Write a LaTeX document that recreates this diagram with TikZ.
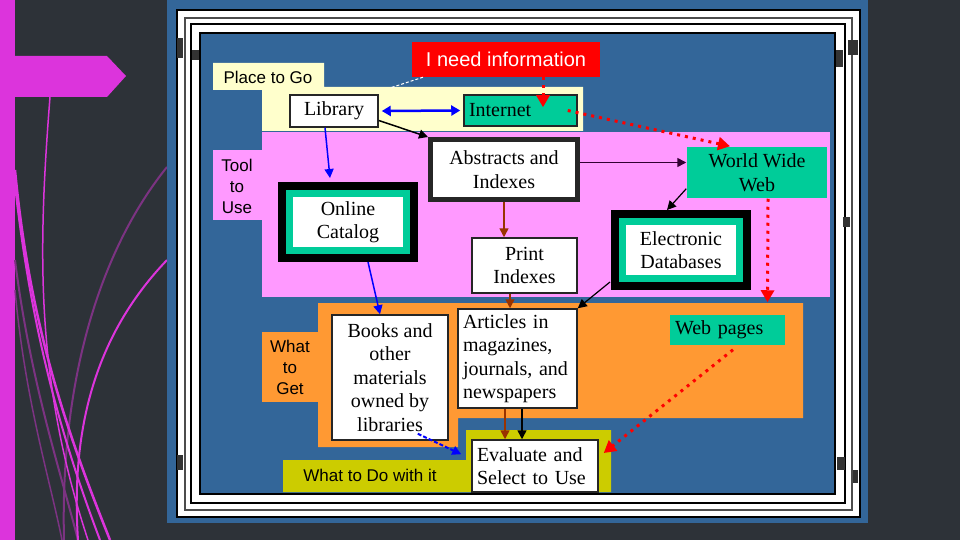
\documentclass[tikz,border=0pt]{standalone}
\usepackage{fontspec}
\setmainfont{Liberation Serif}
\newfontfamily\labelfont{Liberation Sans}
\usetikzlibrary{arrows.meta}

\definecolor{slide}{RGB}{45,50,56}
\definecolor{accent}{RGB}{220,52,220}
\definecolor{frameblue}{RGB}{51,102,153}
\definecolor{placeyellow}{RGB}{255,255,204}
\definecolor{toolpink}{RGB}{255,153,255}
\definecolor{getorange}{RGB}{255,153,51}
\definecolor{doolive}{RGB}{204,204,0}
\definecolor{netgreen}{RGB}{0,204,153}
\definecolor{needred}{RGB}{255,0,0}
\definecolor{linkblue}{RGB}{0,0,255}
\definecolor{linkbrown}{RGB}{153,51,0}
\definecolor{linkpurple}{RGB}{51,0,51}

\tikzset{
  box/.style={draw=black!85, line width=1.5pt, fill=white, inner sep=0pt, align=center,
    font=\fontsize{20}{23.5}\selectfont},
  heavybox/.style={box, line width=5pt},
  ringbox/.style={box, draw=netgreen, line width=7pt, preaction={draw=black, line width=23pt}},
  greenbox/.style={box, fill=netgreen, draw=none},
  regionlabel/.style={inner sep=0pt, align=center, font=\labelfont\fontsize{17}{21}\selectfont},
  link/.style={line width=1.5pt, -{Triangle[length=9pt,width=9pt]}},
  hint/.style={draw=needred, line width=3pt, dash pattern=on 3pt off 5pt,
    -{Triangle[length=12pt,width=13pt]}},
}

\begin{document}
\begin{tikzpicture}[x=1pt, y=-1pt]
\useasboundingbox (0,0) rectangle (960,540);
\fill[slide] (0,0) rectangle (960,540);

% left ribbon
\fill[accent] (0,0) rectangle (15,540);
\fill[accent] (15,56) -- (107,56) -- (126,76) -- (107,97) -- (15,97) -- cycle;
\draw[accent!45!slide, line width=2pt] (167,167) .. controls (100,250) and (60,380) .. (64,540);
\draw[accent!45!slide, line width=2pt] (15,260) .. controls (30,380) and (60,470) .. (78,540);
\draw[accent!45!slide, line width=1.5pt] (15,290) .. controls (25,400) and (50,480) .. (62,540);
\draw[accent, line width=1.5pt] (50,97) .. controls (38,250) and (35,380) .. (88,540);
\draw[accent, line width=2.5pt] (15,170) .. controls (30,330) and (70,440) .. (110,540);
\draw[accent, line width=2pt] (15,185) .. controls (32,340) and (66,450) .. (100,540);
\draw[accent, line width=2pt] (167,260) .. controls (100,330) and (70,420) .. (78,540);

% frame
\fill[frameblue] (167,0) rectangle (868,523);
\filldraw[fill=white, draw=black, line width=1.2pt] (177,10) rectangle (860,517);
\draw[black!70, line width=2.5pt] (185,18) rectangle (852,510);
\draw[black, line width=1.2pt] (191,24) rectangle (845,503);
\filldraw[fill=frameblue, draw=black, line width=1.5pt] (200,33) rectangle (835,494);
\fill[black!80] (177,38) rectangle (183,58);
\fill[black!80] (192,50) rectangle (199,60);
\fill[black!80] (177,455) rectangle (183,470);
\fill[black!80] (848,40) rectangle (858,55);
\fill[black!80] (836,50) rectangle (843,67);
\fill[black!80] (843,217) rectangle (850,227);
\fill[black!80] (837,457) rectangle (845,470);
\fill[black!80] (853,470) rectangle (858,483);

% bands
\fill[placeyellow] (213,63) -- (324,63) -- (324,87) -- (583,87) -- (583,131)
  -- (262,131) -- (262,90) -- (213,90) -- cycle;
\fill[toolpink] (262,132) rectangle (830,297);
\fill[toolpink] (213,150) rectangle (262,220);
\fill[getorange] (318,303) -- (803,303) -- (803,418) -- (458,418) -- (458,447)
  -- (318,447) -- cycle;
\fill[getorange] (262,332) rectangle (318,402);
\fill[doolive] (283,460) -- (466,460) -- (466,430) -- (611,430) -- (611,492)
  -- (283,492) -- cycle;

\node[regionlabel] (placelbl) at (268,77) {Place to Go};
\node[regionlabel] (toollbl) at (237,186) {Tool\\to\\Use};
\node[regionlabel] (getlbl) at (290,367) {What\\to\\Get};
\node[regionlabel] (dolbl) at (370,475) {What to Do with it};

\node[fill=needred, text=white, inner sep=0pt, minimum width=188pt, minimum height=35pt,
  font=\labelfont\fontsize{20}{24}\selectfont] (need) at (506,59.5) {I need information};
\node[box, minimum width=88pt, minimum height=32pt] (lib) at (334,111) {Library};
\node[box, fill=netgreen, text width=103pt, align=left, inner xsep=5pt, minimum height=31pt]
  (net) at (520.5,110.5) {Internet};
\node[heavybox, minimum width=147pt, minimum height=60pt] (abs) at (504,169.5) {Abstracts and\\Indexes};
\node[greenbox, minimum width=140pt, minimum height=51pt] (www) at (757,172.5) {World Wide\\Web};
\node[ringbox, minimum width=117pt, minimum height=57pt] (cat) at (348,222) {Online\\Catalog};
\node[box, minimum width=105pt, minimum height=55pt] (prt) at (524.5,265.5) {Print\\Indexes};
\node[ringbox, minimum width=117pt, minimum height=57pt] (edb) at (681,250) {Electronic\\Databases};
\node[box, minimum width=116pt, minimum height=125pt] (bks) at (390,377.5)
  {Books and\\other\\materials\\owned by\\libraries};
\node[box, text width=109pt, align=left, inner xsep=5pt, minimum height=99pt] (art) at (517.5,358.5)
  {Articles in\\magazines,\\journals, and\\newspapers};
\node[greenbox, text width=105pt, align=left, inner xsep=5pt, minimum height=30pt] (web) at (727.5,330)
  {Web pages};
\node[box, text width=116pt, align=left, inner xsep=5pt, minimum height=52pt] (evl) at (535,466)
  {Evaluate and\\Select to Use};

\coordinate (gap) at (390,88);
\draw[white, line width=1pt, dash pattern=on 3pt off 2pt] ([xshift=-83pt]need.south) -- (gap);

\draw[link, linkblue, line width=2.5pt, {Triangle[length=9pt,width=10pt]}-{Triangle[length=9pt,width=10pt]}]
  ([xshift=3pt]lib.east) -- ([xshift=-3pt]net.west);
\draw[link] (lib.-12) -- (abs.north west);
\draw[link, linkblue] ([xshift=-9pt]lib.south) -- ([xshift=-18pt, yshift=12pt]cat.north);
\draw[link, linkpurple] ([yshift=7pt]abs.east) -- ([yshift=7pt]abs.east -| www.west);
\draw[link, linkbrown] (abs.south) -- (abs.south |- prt.north);
\draw[link, line width=1.2pt] ([yshift=10pt]www.south west) -- ([xshift=-14pt, yshift=8pt]edb.north);
\draw[link, line width=1.2pt] ([xshift=-9pt]edb.south west) -- (art.north east);
\draw[link, linkblue] ([xshift=20pt, yshift=-8pt]cat.south) -- ([xshift=-10pt]bks.north);
\draw[link, linkbrown] ([xshift=-14.5pt]prt.south) -- ([xshift=-14.5pt]prt.south |- art.north);
\draw[link, linkbrown] ([xshift=-12.5pt]art.south) -- ([xshift=-12.5pt]art.south |- evl.north);
\draw[link] ([xshift=4.5pt]art.south) -- ([xshift=4.5pt]art.south |- evl.north);
\draw[link, linkblue, line width=2pt, dash pattern=on 4pt off 2pt]
  ([xshift=-31pt, yshift=7pt]bks.south east) -- ([xshift=-10pt, yshift=-15pt]evl.north west);

\draw[hint] ([xshift=37pt]need.south) -- ([xshift=22.5pt, yshift=-13pt]net.north);
\draw[hint] ([xshift=-10pt]net.east) -- ([xshift=-27pt]www.north);
\draw[hint] ([xshift=11pt]www.south) -- ([xshift=40pt, yshift=12pt]web.north);
\draw[hint] ([xshift=5.5pt, yshift=-4pt]web.south) -- ([xshift=5pt, yshift=13pt]evl.east);
\end{tikzpicture}
\end{document}
